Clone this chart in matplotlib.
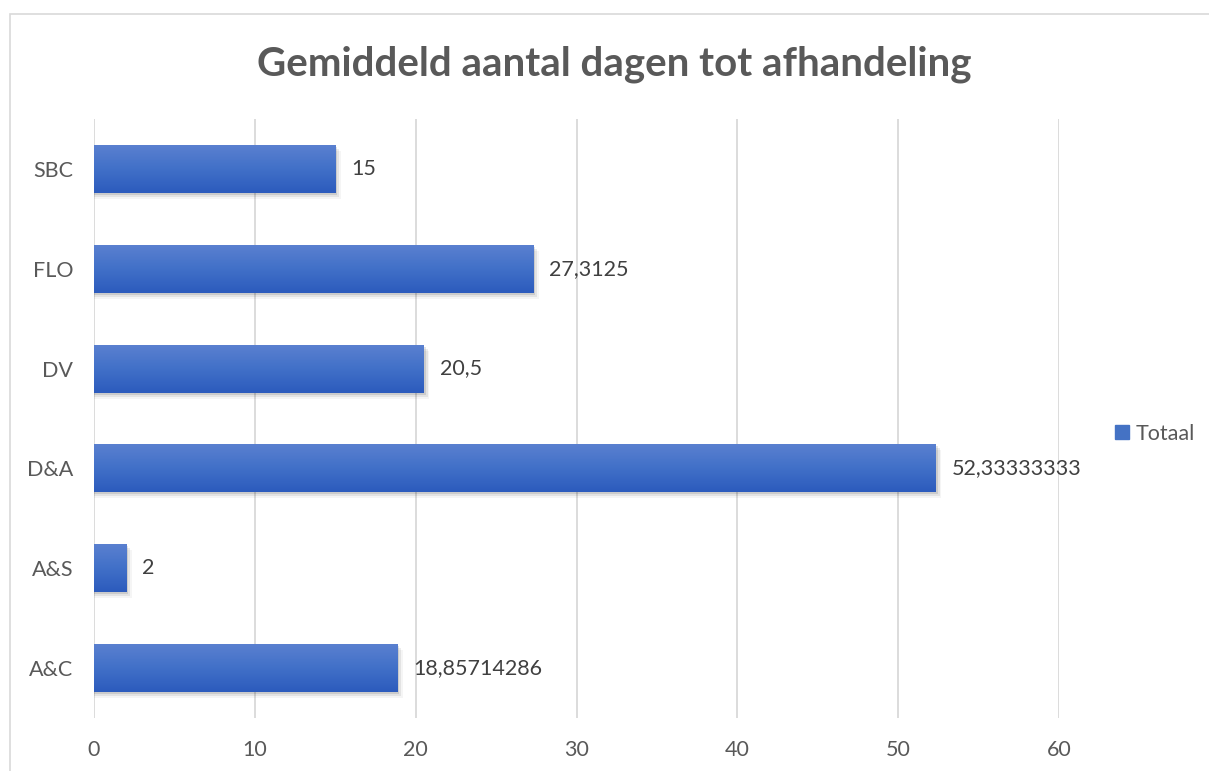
import matplotlib.pyplot as plt
import numpy as np
from matplotlib.patches import Rectangle
from matplotlib.lines import Line2D
from matplotlib.colors import LinearSegmentedColormap

categories = ['A&C', 'A&S', 'D&A', 'DV', 'FLO', 'SBC']
values = [18.85714286, 2, 52.33333333, 20.5, 27.3125, 15]
xticks = [0, 10, 20, 30, 40, 50, 60]

plt.rcParams['font.family'] = ['Lato', 'DejaVu Sans']

fig = plt.figure(figsize=(12.09, 7.71), dpi=100)
W, H = 1209, 771
ax = fig.add_axes([94 / W, 1 - 718 / H, (1059 - 94) / W, (718 - 119) / H])

# outer chart border
fig.patches.append(Rectangle((10 / W, -0.1), 1.2, 1 - 14 / H + 0.1, transform=fig.transFigure,
                             fill=False, edgecolor='#d9d9d9', linewidth=1.2))

y = np.arange(len(categories))
bh = 0.48
bars = ax.barh(y, values, height=bh, color='#4472c4', zorder=3)

# gradient fill + soft shadow
grad = np.linspace(0, 1, 100).reshape(-1, 1)
cmap = LinearSegmentedColormap.from_list('g', ['#5a80d0', '#4170c8', '#2c5bbd'])
for b in bars:
    x0, y0, w, h = b.get_x(), b.get_y(), b.get_width(), b.get_height()
    for k, a in enumerate([0.10, 0.07, 0.04]):
        ax.add_patch(Rectangle((x0, y0 - 0.02 * (k + 1)), w + 0.12 * (k + 1), h,
                               color='#000000', alpha=a, lw=0, zorder=2))
    ax.imshow(grad, extent=(x0, x0 + w, y0, y0 + h), aspect='auto', cmap=cmap,
              origin='upper', zorder=4)

for v, yy in zip(values, y):
    ax.text(v + 1.0, yy, f"{v:.10g}".replace('.', ','), va='center', ha='left',
            fontsize=15.5, color='#404040', zorder=5)

ax.set_xlim(0, 60)
ax.set_ylim(-0.5, len(categories) - 0.5)
ax.set_xticks(xticks)
ax.set_yticks(y)
ax.set_yticklabels(categories)
ax.xaxis.grid(True, color='#d9d9d9', linewidth=1.3, zorder=0)
ax.set_axisbelow(True)
for s in ax.spines.values():
    s.set_visible(False)
ax.tick_params(axis='both', length=0, labelsize=15.5, labelcolor='#595959')
ax.tick_params(axis='y', pad=15)
ax.tick_params(axis='x', pad=16)

fig.text(614 / W, 1 - 64 / H, 'Gemiddeld aantal dagen tot afhandeling', ha='center', va='center',
         fontsize=29, fontweight='bold', color='#595959')

handle = Line2D([], [], marker='s', linestyle='none', markersize=10,
                markerfacecolor='#4472c4', markeredgecolor='#4472c4')
fig.legend([handle], ['Totaal'], loc='center left', bbox_to_anchor=(1103 / W, 1 - 434 / H),
           frameon=False, fontsize=15.5, labelcolor='#595959', handletextpad=0.1,
           handlelength=1.0, borderaxespad=0)

fig.savefig('out.png', dpi=100)
